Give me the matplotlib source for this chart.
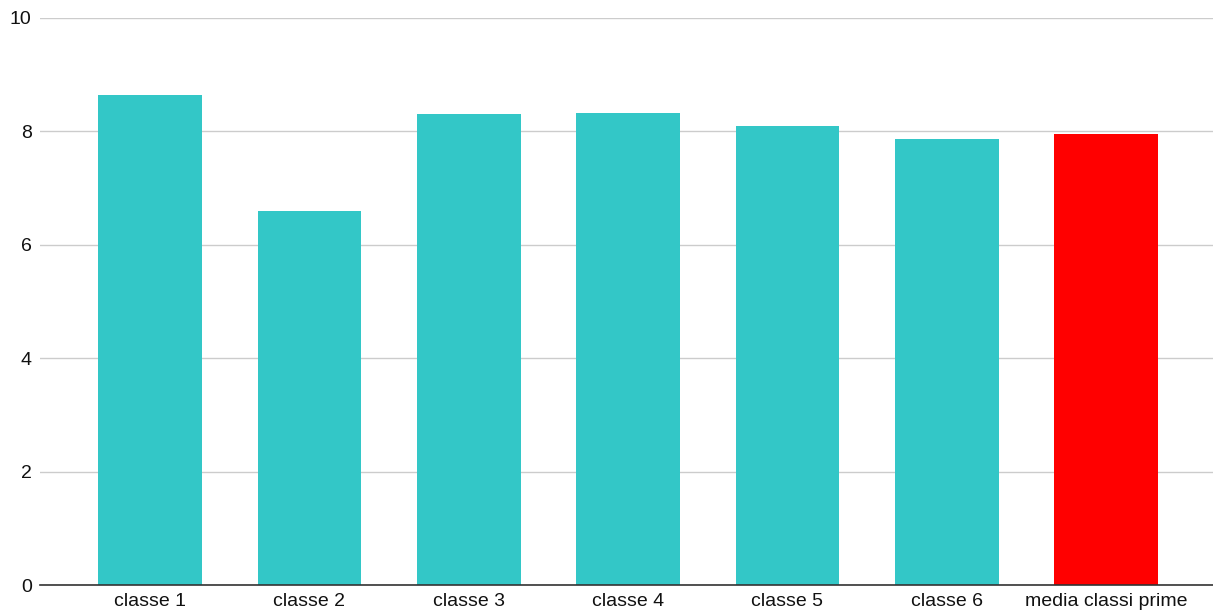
import matplotlib.pyplot as plt

plt.rcParams['font.family'] = ['Liberation Sans', 'DejaVu Sans']

categories = ['classe 1', 'classe 2', 'classe 3', 'classe 4', 'classe 5',
              'classe 6', 'media classi prime']
values = [8.64, 6.60, 8.30, 8.33, 8.10, 7.87, 7.96]
colors = ['#33c7c7'] * 6 + ['#ff0000']
yticks = [0, 2, 4, 6, 8, 10]

fig = plt.figure(figsize=(12.13, 6.16), dpi=100)
ax = fig.add_axes([40 / 1213, 1 - 585 / 616, 1 - 40 / 1213, (585 - 18) / 616])

x = range(len(categories))
ax.bar(x, values, width=0.65, color=colors, zorder=3)

ax.set_xlim(-0.69, 6.67)
ax.set_ylim(0, 10)
ax.set_yticks(yticks)
ax.set_yticklabels([str(t) for t in yticks])
ax.set_xticks(list(x))
ax.set_xticklabels(categories)
ax.tick_params(axis='both', length=0, labelsize=14, colors='#111111')
ax.tick_params(axis='y', pad=6)
ax.tick_params(axis='x', pad=6)

ax.grid(axis='y', color='#cccccc', linewidth=1, zorder=0)
for side in ['top', 'right', 'left']:
    ax.spines[side].set_visible(False)
ax.spines['bottom'].set_color('#333333')
ax.spines['bottom'].set_linewidth(1.2)
ax.spines['bottom'].set_zorder(4)

fig.savefig('out.png', dpi=100)
